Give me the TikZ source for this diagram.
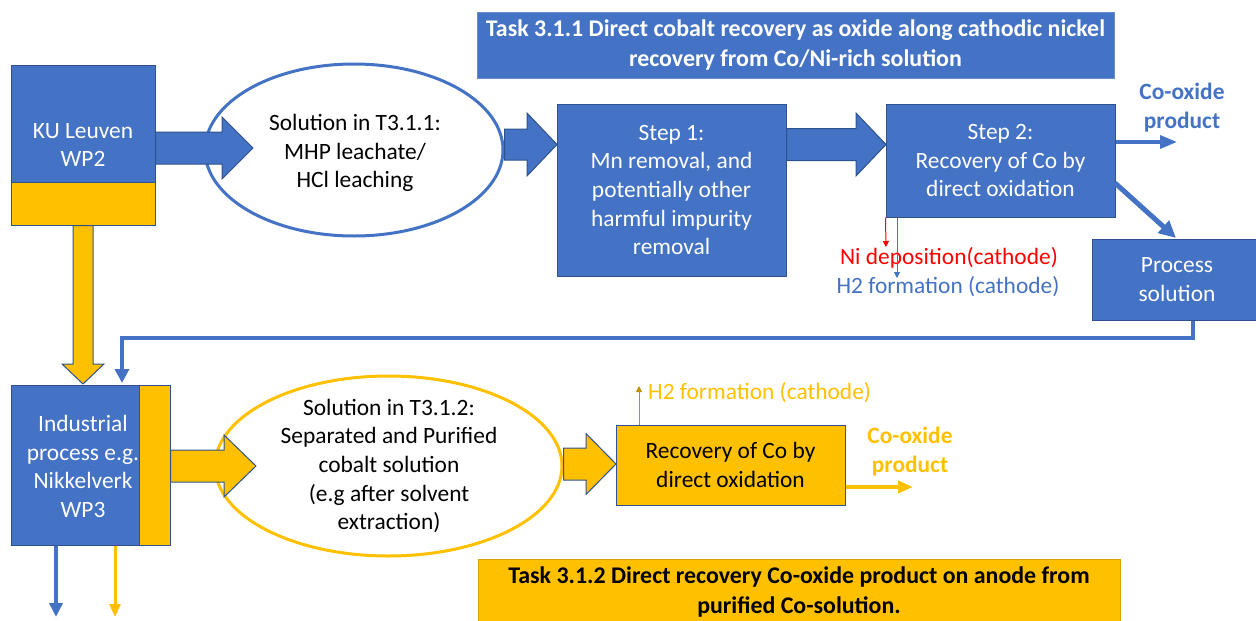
\documentclass[tikz,border=0pt]{standalone}
\usepackage{fontspec}
\setmainfont{Carlito}
\usetikzlibrary{arrows.meta,shapes.geometric,calc}
\definecolor{cblue}{HTML}{4472C4}
\definecolor{cyel}{HTML}{FFC000}
\definecolor{cedge}{HTML}{2F528F}
\definecolor{cgold}{HTML}{BF9000}
\newcommand{\fs}{\fontsize{23.4}{28.6}\selectfont}
\newcommand{\fh}{\fontsize{23.9}{29.5}\selectfont}
% block arrow pointing right: style, start, tip, shaft half-width, head half-width, head length
\newcommand{\blockright}[6]{%
  \draw[#1] let \p1=(#2), \p2=(#3) in
    (\x1,\y2+#4pt) -- (\x2-#6pt,\y2+#4pt) -- (\x2-#6pt,\y2+#5pt) -- (\x2,\y2)
    -- (\x2-#6pt,\y2-#5pt) -- (\x2-#6pt,\y2-#4pt) -- (\x1,\y2-#4pt) -- cycle;}
% block arrow pointing down
\newcommand{\blockdown}[6]{%
  \draw[#1] let \p1=(#2), \p2=(#3) in
    (\x2-#4pt,\y1) -- (\x2-#4pt,\y2+#6pt) -- (\x2-#5pt,\y2+#6pt) -- (\x2,\y2)
    -- (\x2+#5pt,\y2+#6pt) -- (\x2+#4pt,\y2+#6pt) -- (\x2+#4pt,\y1) -- cycle;}
\begin{document}
\begin{tikzpicture}[x=1pt,y=-1pt,
  txt/.style={align=center,inner sep=0pt,font=\fs},
  box/.style={rectangle,draw=cedge,line width=1pt,inner sep=0pt,align=center,font=\fs},
  bluebox/.style={box,fill=cblue,text=white},
  yelbox/.style={box,fill=cyel,text=black},
  header/.style={rectangle,draw=cblue!80!white,line width=0.8pt,inner sep=0pt,align=center,font=\fh\bfseries},
  bluearrow/.style={fill=cblue,draw=cedge,line width=1pt,line join=miter},
  yelarrow/.style={fill=cyel,draw=cedge,line width=1pt,line join=miter},
  thick tip/.style={-{Triangle[length=14pt,width=14pt]}},
  thin tip/.style={-{Triangle[length=6pt,width=6pt]}}]
\useasboundingbox (0,0) rectangle (1256,621);

% task headers
\node[header,fill=cblue,text=white,minimum width=637pt,minimum height=66pt] (task1) at (795.5,45)
  {Task 3.1.1 Direct cobalt recovery as oxide along cathodic nickel\\recovery from Co/Ni-rich solution};
\node[header,fill=cyel,draw=cyel!85!black,text=black,minimum width=642pt,minimum height=66pt] (task2) at (799,592)
  {Task 3.1.2 Direct recovery Co-oxide product on anode from\\purified Co-solution.};

% solution ellipses
\node[ellipse,draw=cblue,line width=3pt,fill=white,minimum width=298pt,minimum height=172pt,inner sep=0pt] (sol1) at (354,150) {};
\node[txt] (sol1txt) at (355,153) {Solution in T3.1.1:\\MHP leachate/\\HCl leaching};
\node[ellipse,draw=cyel,line width=3pt,fill=white,minimum width=347pt,minimum height=180pt,inner sep=0pt] (sol2) at (388.5,466) {};
\node[txt] (sol2txt) at (389,466) {Solution in T3.1.2:\\Separated and Purified\\cobalt solution\\(e.g after solvent\\extraction)};

% partner boxes
\node[bluebox,minimum width=144pt,minimum height=117pt] (kublue) at (83,123.5) {};
\node[yelbox,minimum width=144pt,minimum height=43pt] (kuyel) at (83,203.5) {};
\node[txt,text=white] (kutxt) at (83,145) {KU Leuven\\WP2};
\node[bluebox,minimum width=128pt,minimum height=160pt] (indblue) at (75,465) {};
\node[yelbox,minimum width=31pt,minimum height=160pt] (indyel) at (154.5,465) {};
\node[txt,text=white] (indtxt) at (83,466.5) {Industrial\\process e.g.\\Nikkelverk\\WP3};

% process steps
\node[bluebox,minimum width=229pt,minimum height=172pt] (step1) at (671.5,190)
  {Step 1:\\Mn removal, and\\potentially other\\harmful impurity\\removal};
\node[bluebox,minimum width=229pt,minimum height=113pt] (step2) at (1000.5,160.5)
  {Step 2:\\Recovery of Co by\\direct oxidation};
\node[bluebox,minimum width=170pt,minimum height=81pt] (proc) at (1177,279.5)
  {Process\\solution};
\node[yelbox,minimum width=229pt,minimum height=80pt] (recov) at (730.5,465)
  {Recovery of Co by\\direct oxidation};

% block arrows
\coordinate (tA) at (253,148);
\coordinate (tB) at (557,144.5);
\coordinate (tC) at (886,144.5);
\coordinate (tD) at (83,384);
\coordinate (tE) at (256,466);
\coordinate (tF) at (616,464);
\blockright{bluearrow}{kublue.east |- tA}{tA}{16}{31}{31}
\blockright{bluearrow}{sol1.east |- tB}{tB}{15.5}{31.5}{30}
\blockright{bluearrow}{step1.east |- tC}{tC}{16}{31.5}{30}
\blockdown{yelarrow}{kuyel.south}{tD}{10}{21}{20}
\blockright{yelarrow}{indyel.east |- tE}{tE}{16}{31}{32}
\blockright{yelarrow}{sol2.east |- tF}{tF}{16}{30.5}{30}

% products and by-products
\node[txt,font=\fs\bfseries,text=cblue] (coox1) at (1182,107.5) {Co-oxide\\product};
\node[txt,font=\fs\bfseries,text=cyel] (coox2) at (910,451.5) {Co-oxide\\product};
\node[txt,text=red] (nidep) at (949,258) {Ni deposition(cathode)};
\node[txt,text=cblue] (h2a) at (948,287) {H2 formation (cathode)};
\node[txt,text=cyel,anchor=west] (h2b) at (648,393) {H2 formation (cathode)};

\coordinate (eCo1) at (1177,142);
\coordinate (eDiag0) at (1115,183);
\coordinate (eDiag) at (1176,238);
\coordinate (eFeed) at (122,383);
\coordinate (eCo2) at (913,487);
\coordinate (eNi) at (886,247);
\coordinate (eH2a) at (897,278);
\coordinate (eH2b) at (639,386);
\coordinate (eOutB) at (56,617);
\coordinate (eOutY) at (115,617);

\draw[cblue,line width=3.5pt,-{Triangle[length=17pt,width=13pt]}] (step2.east |- eCo1) -- (eCo1);
\draw[cblue,line width=5pt,-{Triangle[length=17pt,width=16pt]}] (eDiag0) -- (eDiag);
\draw[cblue,line width=4pt,thick tip] (proc.south -| 1193,0) -- (1193,338) -- (eFeed |- 0,338) -- (eFeed);
\draw[cyel,line width=4pt,-{Triangle[length=15pt,width=12pt]}] (recov.east |- eCo2) -- (eCo2);
\draw[red,line width=1pt,thin tip] (step2.south west) -- (eNi);
\draw[cblue,line width=1pt,thin tip] (step2.south -| eH2a) -- (eH2a);
\draw[cgold,line width=1pt,thin tip] (recov.north -| eH2b) -- (eH2b);
\draw[cblue,line width=4pt,-{Triangle[length=14pt,width=13pt]}] (indblue.south -| eOutB) -- (eOutB);
\draw[cyel,line width=3pt,-{Triangle[length=13pt,width=11pt]}] (indyel.south -| eOutY) -- (eOutY);
\end{tikzpicture}
\end{document}
